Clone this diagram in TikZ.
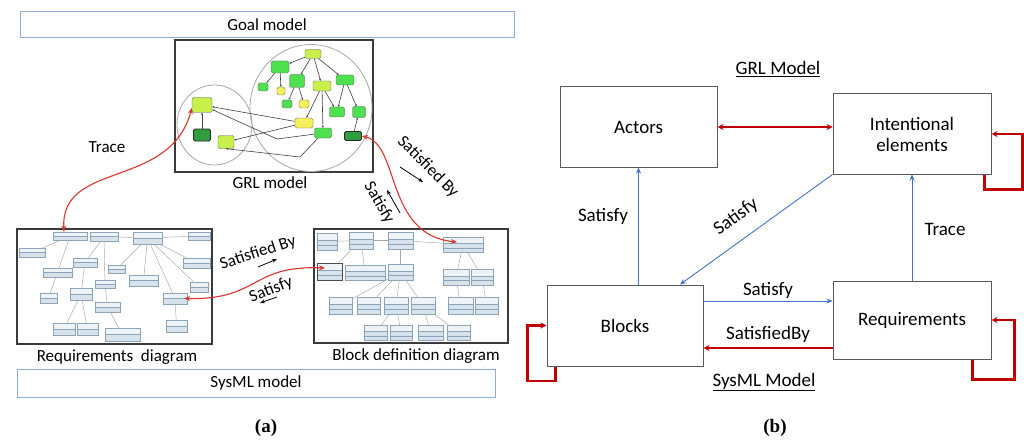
\documentclass[tikz,border=0pt]{standalone}
\usepackage{fontspec}
\setmainfont{Carlito}
\newfontfamily\capfont{Liberation Serif}
\usetikzlibrary{arrows.meta,calc}

\definecolor{frameblue}{HTML}{8FAADC}
\definecolor{boxgray}{HTML}{595959}
\definecolor{shotgray}{HTML}{3A3A3A}
\definecolor{relred}{HTML}{C00000}
\definecolor{tracered}{HTML}{D8352F}
\definecolor{linkblue}{HTML}{4472C4}
\definecolor{ygreen}{HTML}{C8F04C}
\definecolor{lgreen}{HTML}{4EE04E}
\definecolor{lyellow}{HTML}{F4F25A}
\definecolor{dgreen}{HTML}{2E9E3E}
\definecolor{reqfill}{HTML}{D6E2EC}
\definecolor{reqhead}{HTML}{EEF3F7}
\definecolor{reqedge}{HTML}{8CA3B8}
\definecolor{circgray}{HTML}{A8A8A8}

\tikzset{
  lbl/.style={font=\fontsize{17}{20}\selectfont, inner sep=1pt},
  rlbl/.style={font=\fontsize{19}{23}\selectfont, inner sep=1pt},
  modelbar/.style={draw=frameblue, line width=1pt, fill=white, font=\fontsize{17}{20}\selectfont},
  shot/.style={draw=shotgray, line width=1.2pt, fill=white},
  grlnode/.style={draw=black!65, line width=0.35pt, rounded corners=1.6pt, inner sep=0pt},
  grlstrong/.style={draw=black!85, line width=0.9pt, rounded corners=1.6pt, inner sep=0pt},
  grllink/.style={draw=black!75, line width=0.6pt, -{Stealth[length=2.2pt,width=2pt]}},
  reqbox/.style={draw=reqedge, fill=reqhead, line width=0.4pt, inner sep=0pt,
    path picture={
      \fill[reqfill] ($(path picture bounding box.north west)!0.5!(path picture bounding box.south west)$) rectangle (path picture bounding box.south east);
      \draw[reqedge, line width=0.3pt] ($(path picture bounding box.north west)!0.5!(path picture bounding box.south west)$) -- ($(path picture bounding box.north east)!0.5!(path picture bounding box.south east)$);}},
  blkbox/.style={draw=reqedge, fill=reqhead, line width=0.4pt, inner sep=0pt,
    path picture={
      \fill[reqfill] ($(path picture bounding box.north west)!0.42!(path picture bounding box.south west)$) rectangle (path picture bounding box.south east);
      \draw[reqedge, line width=0.3pt] ($(path picture bounding box.north west)!0.42!(path picture bounding box.south west)$) -- ($(path picture bounding box.north east)!0.42!(path picture bounding box.south east)$);
      \draw[reqedge, line width=0.3pt] ($(path picture bounding box.north west)!0.71!(path picture bounding box.south west)$) -- ($(path picture bounding box.north east)!0.71!(path picture bounding box.south east)$);}},
  umllink/.style={draw=black!35, line width=0.45pt},
  tracelink/.style={draw=tracered, line width=1.1pt, {Stealth[length=6pt,width=5pt]}-{Stealth[length=6pt,width=5pt]}},
  hintarrow/.style={draw=black, line width=0.8pt, -{Stealth[length=5pt,width=4pt]}},
  concept/.style={draw=boxgray, line width=1pt, fill=white, align=center, font=\fontsize{19}{22}\selectfont},
  redrel/.style={draw=relred, line width=2.2pt, -{Stealth[length=6pt,width=6pt]}},
  bluerel/.style={draw=linkblue, line width=0.9pt, -{Stealth[length=6pt,width=5pt]}}
}

% helpers for the miniature diagrams
\newcommand\grlitem[7]{\node[#7, fill=#6, minimum width=#4pt, minimum height=#5pt] (#1) at (#2,#3) {};}
\newcommand\reqitem[5]{\node[reqbox, minimum width=#4pt, minimum height=#5pt] (#1) at (#2,#3) {};}
\newcommand\blkitem[5]{\node[blkbox, minimum width=#4pt, minimum height=#5pt] (#1) at (#2,#3) {};}

\begin{document}
\begin{tikzpicture}[x=1pt,y=-1pt]
\useasboundingbox[fill=white] (0,0) rectangle (1024,441);

% ---------------- (a) ----------------
\node[modelbar, minimum width=494pt, minimum height=26pt] (goalbar) at (267,25) {Goal model};
\node[modelbar, minimum width=478pt, minimum height=28pt] (sysbar) at (256,383) {SysML model};

% GRL model snapshot
\node[shot, minimum width=198pt, minimum height=132pt] (grlshot) at (274,106) {};
\node[lbl] (grllbl) at (270,183) {GRL model};
\draw[circgray, line width=0.8pt] (214.5,125) ellipse (37.5 and 40);
\draw[circgray, line width=0.8pt] (311,108) ellipse (61 and 63.5);

\grlitem{gs}{313}{54}{16}{9}{ygreen}{grlnode}
\grlitem{gra}{280}{67}{18}{12}{lgreen}{grlnode}
\grlitem{grb}{297}{81}{15}{13}{lgreen}{grlnode}
\grlitem{gh}{263}{87}{10}{8}{lgreen}{grlnode}
\grlitem{gm}{281}{91}{8}{8}{lyellow}{grlnode}
\grlitem{ga}{322}{86}{18}{10}{ygreen}{grlnode}
\grlitem{gct}{345}{80}{18}{10}{lgreen}{grlnode}
\grlitem{gf}{287}{104}{10}{8}{lgreen}{grlnode}
\grlitem{gb}{304}{104}{10}{8}{lyellow}{grlnode}
\grlitem{grs}{337}{112}{15}{10}{lgreen}{grlnode}
\grlitem{grd}{359}{112}{13}{11}{lgreen}{grlnode}
\grlitem{ge}{304}{123}{18}{10}{lyellow}{grlnode}
\grlitem{gfe}{323}{133}{17}{10}{lgreen}{grlnode}
\grlitem{gd}{353}{136}{17}{9}{dgreen}{grlstrong}
\grlitem{gcf}{202}{105}{20}{15}{ygreen}{grlnode}
\grlitem{gro}{202}{135}{17}{12}{dgreen}{grlstrong}
\grlitem{grc}{226}{142}{16}{13}{ygreen}{grlnode}

\draw[grllink] (gs) -- (gra);
\draw[grllink] (gs) -- (grb);
\draw[grllink] (gs) -- (ga);
\draw[grllink] (gs) -- (gct);
\draw[grllink] (gra) -- (gh);
\draw[grllink] (gra) -- (gm);
\draw[grllink] (grb) -- (gf);
\draw[grllink] (grb) -- (gb);
\draw[grllink] (ga) -- (ge);
\draw[grllink] (ga) -- (gfe);
\draw[grllink] (ga) -- (grs);
\draw[grllink] (gct) -- (grs);
\draw[grllink] (gct) -- (grd);
\draw[grllink] (gd) -- (grd);
\draw[grllink] (ge) -- (gcf);
\draw[grllink] (ge) -- (grc);
\coordinate (bendA) at (277,139);
\coordinate (bendB) at (300,157);
\draw[grllink] (gfe) -- (bendA) -- (gcf);
\draw[grllink] (gfe) -- (bendB) -- (grc.south);
\draw[grllink] (gro) -- (gcf);

% Requirements diagram snapshot
\node[shot, minimum width=195pt, minimum height=115pt] (reqshot) at (114.5,286.5) {};
\node[lbl] (reqlbl) at (117,357) {Requirements\ \ diagram};

\reqitem{r1}{70}{236}{34}{8}
\reqitem{r2}{104}{236.5}{28}{9}
\reqitem{r3}{147.5}{238}{29}{12}
\reqitem{r4}{199}{236}{22}{8}
\reqitem{r5}{32}{252.5}{26}{9}
\reqitem{r6}{57.5}{272.5}{29}{9}
\reqitem{r7}{85}{262.5}{24}{9}
\reqitem{r8}{116.5}{269}{17}{8}
\reqitem{r9}{196.5}{263}{27}{10}
\reqitem{r10}{48.5}{298}{17}{10}
\reqitem{r11}{81}{294}{22}{12}
\reqitem{r12}{105}{284}{20}{8}
\reqitem{r13}{143.5}{280.5}{29}{11}
\reqitem{r14}{199}{287}{18}{10}
\reqitem{r15}{175}{298.5}{24}{11}
\reqitem{r16}{107.5}{307}{25}{10}
\reqitem{r17}{64}{329}{22}{12}
\reqitem{r18}{87.5}{329}{21}{12}
\reqitem{r19}{122.5}{334.5}{35}{13}
\reqitem{r20}{176.5}{326}{21}{12}

\foreach \a/\b in {r1/r6, r1/r5, r6/r10, r2/r3, r2/r7, r2/r12, r7/r11, r11/r17, r11/r18,
                   r12/r16, r16/r19, r3/r8, r3/r13, r3/r9, r3/r14, r3/r15, r3/r4, r15/r20}
  \draw[umllink] (\a) -- (\b);

% Block definition diagram snapshot
\node[shot, minimum width=194pt, minimum height=114pt] (bddshot) at (411,286) {};
\node[lbl] (bddlbl) at (416,356) {Block definition diagram};

\blkitem{b1}{327}{241.5}{20}{17}
\blkitem{b2}{361}{240.5}{24}{17}
\blkitem{b3}{400.5}{240.5}{25}{17}
\blkitem{b4}{463}{244.5}{40}{15}
\node[blkbox, draw=black!70, line width=0.8pt, minimum width=25pt, minimum height=17pt] (b5) at (329.5,271.5) {};
\blkitem{b6}{365}{272.5}{40}{15}
\blkitem{b7}{400.5}{272}{25}{16}
\blkitem{b8}{456}{277}{26}{16}
\blkitem{b9}{482}{277}{22}{16}
\blkitem{b10}{340.5}{305.5}{23}{17}
\blkitem{b11}{368.5}{305.5}{23}{17}
\blkitem{b12}{396}{305.5}{24}{17}
\blkitem{b13}{423}{305.5}{24}{17}
\blkitem{b14}{460.5}{305.5}{25}{17}
\blkitem{b15}{486.5}{305.5}{23}{17}
\blkitem{b16}{375.5}{332.5}{23}{15}
\blkitem{b17}{401}{332.5}{22}{15}
\blkitem{b18}{430.5}{332.5}{25}{15}
\blkitem{b19}{458.5}{332.5}{23}{15}

\foreach \a/\b in {b1/b2, b2/b3, b3/b4, b2/b5, b2/b6, b3/b7, b7/b10, b7/b11, b7/b12, b7/b13,
                   b12/b16, b12/b17, b13/b18, b13/b19, b4/b8, b4/b9, b8/b14, b9/b15}
  \draw[umllink] (\a) -- (\b);

% trace links between the models
\draw[tracelink] ([xshift=-6pt]r1.north) .. controls (60,160) and (170,190) .. ([yshift=-3pt]gcf.west);
\node[lbl] (tracelbl) at (107,147) {Trace};

\draw[tracelink] (gd.east) .. controls (400,145) and (385,235) .. ([xshift=-6pt,yshift=2.5pt]b4.center);
\node[lbl, rotate=-45] (sbylblA) at (428,167) {Satisfied By};
\node[lbl, rotate=-60] (satlblA) at (379,203) {Satisfy};
\coordinate (hintA1) at (400,167);
\coordinate (hintA2) at (423,182);
\coordinate (hintB1) at (400,213);
\coordinate (hintB2) at (387,190);
\draw[hintarrow] (hintA1) -- (hintA2);
\draw[hintarrow] (hintB1) -- (hintB2);

\draw[tracelink] ([xshift=-3pt]r15.east) .. controls (260,300) and (250,265) .. ([xshift=-4.5pt,yshift=3.5pt]b5.center);
\node[lbl, rotate=18] (sbylblB) at (258,253) {Satisfied By};
\node[lbl, rotate=21] (satlblB) at (271,290) {Satisfy};
\coordinate (hintC1) at (258,267);
\coordinate (hintC2) at (277,259);
\coordinate (hintD1) at (277,297);
\coordinate (hintD2) at (260,303);
\draw[hintarrow] (hintC1) -- (hintC2);
\draw[hintarrow] (hintD1) -- (hintD2);

\node[font=\capfont\bfseries\fontsize{19}{22}\selectfont] (capa) at (266,428) {(a)};

% ---------------- (b) ----------------
\node[rlbl] (grlhead) at (778,69) {\underline{GRL Model}};
\node[rlbl] (sysmlhead) at (764,382) {\underline{SysML Model}};

\node[concept, minimum width=157pt, minimum height=80pt] (actors) at (638.5,127) {Actors};
\node[concept, minimum width=158pt, minimum height=80pt] (intent) at (912,134) {Intentional\\[-1pt]elements};
\node[concept, minimum width=156pt, minimum height=81pt] (blocks) at (625,325.5) {Blocks};
\node[concept, minimum width=158pt, minimum height=78pt] (reqs) at (912,320) {Requirements};

\coordinate (satOut) at ([yshift=24.5pt]blocks.east);
\coordinate (sbyOut) at ([yshift=-28pt]reqs.west);

\draw[redrel, {Stealth[length=6pt,width=6pt]}-{Stealth[length=6pt,width=6pt]}] (actors.east) -- (intent.west |- actors.east);
\draw[redrel] ([xshift=-7pt]intent.south east) -- ++(0,15) -- ++(38,0) |- (intent.east);
\draw[redrel] ([xshift=-19pt]reqs.south east) -- ++(0,20) -- ++(42,0) |- (reqs.east);
\draw[redrel] ([xshift=9pt]blocks.south west) -- ++(0,14.5) -- ++(-28,0) |- (blocks.west);

\draw[bluerel] (blocks.north -| actors.south) -- (actors.south);
\node[rlbl] (satActlbl) at (603,216) {Satisfy};
\draw[bluerel] (intent.south west) -- ([xshift=55pt]blocks.north);
\node[rlbl, rotate=36] (satIntlbl) at (736,217) {Satisfy};
\draw[bluerel] (reqs.north) -- (intent.south);
\node[rlbl] (tracelblB) at (945,229) {Trace};
\draw[bluerel] (satOut) -- node[midway, above=1pt, rlbl] {Satisfy} (reqs.west |- satOut);
\draw[redrel] (sbyOut) -- node[midway, above=3pt, rlbl] {SatisfiedBy} (blocks.east |- sbyOut);

\node[font=\capfont\bfseries\fontsize{19}{22}\selectfont] (capb) at (775,428) {(b)};
\end{tikzpicture}
\end{document}
